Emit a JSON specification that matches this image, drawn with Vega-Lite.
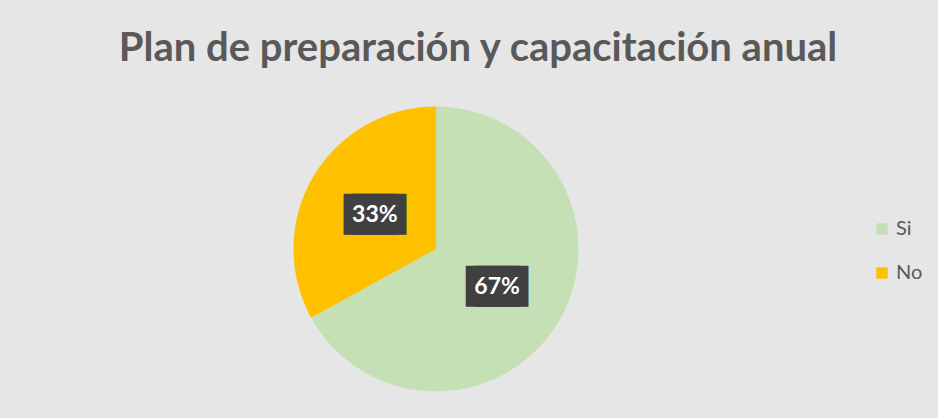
{
  "$schema": "https://vega.github.io/schema/vega-lite/v6.json",
  "width": 872,
  "height": 338,
  "autosize": {"type": "none"},
  "padding": {"left": 0, "top": 80, "right": 66, "bottom": 0},
  "background": "#e6e6e6",
  "title": {
    "text": "Plan de preparación y capacitación anual",
    "font": "Lato",
    "fontSize": 40,
    "fontWeight": "bold",
    "color": "#595959",
    "anchor": "middle",
    "dx": 42,
    "offset": 11
  },
  "data": {
    "values": [
      {"respuesta": "Si", "valor": 67, "etiqueta": "67%", "orden": 1},
      {"respuesta": "No", "valor": 33, "etiqueta": "33%", "orden": 2}
    ]
  },
  "encoding": {
    "theta": {"field": "valor", "type": "quantitative", "stack": true},
    "order": {"field": "orden", "type": "ordinal"}
  },
  "layer": [
    {
      "mark": {"type": "arc", "outerRadius": 142.5},
      "encoding": {
        "color": {
          "field": "respuesta",
          "type": "nominal",
          "scale": {"domain": ["Si", "No"], "range": ["#C5E0B4", "#FFC000"]},
          "legend": {
            "title": null,
            "orient": "none",
            "legendX": 872,
            "legendY": 139,
            "symbolType": "square",
            "symbolSize": 130,
            "symbolStrokeWidth": 0,
            "labelFont": "Lato",
            "labelFontSize": 20,
            "labelColor": "#595959",
            "rowPadding": 24,
            "labelOffset": 4
          }
        }
      }
    },
    {
      "mark": {"type": "text", "radius": 71, "dx": -4.5, "dy": 3, "font": "DejaVu Sans", "fontSize": 34.5, "color": "#404040", "align": "center", "baseline": "middle"},
      "encoding": {"text": {"value": "██"}}
    },
    {
      "mark": {"type": "text", "radius": 71, "dx": 4.5, "dy": 3, "font": "DejaVu Sans", "fontSize": 34.5, "color": "#404040", "align": "center", "baseline": "middle"},
      "encoding": {"text": {"value": "██"}}
    },
    {
      "mark": {"type": "text", "radius": 71, "dy": 2, "font": "Lato", "fontSize": 23, "fontWeight": "bold", "color": "#ffffff", "align": "center", "baseline": "middle"},
      "encoding": {"text": {"field": "etiqueta"}}
    }
  ],
  "config": {
    "view": {"stroke": null}
  }
}
